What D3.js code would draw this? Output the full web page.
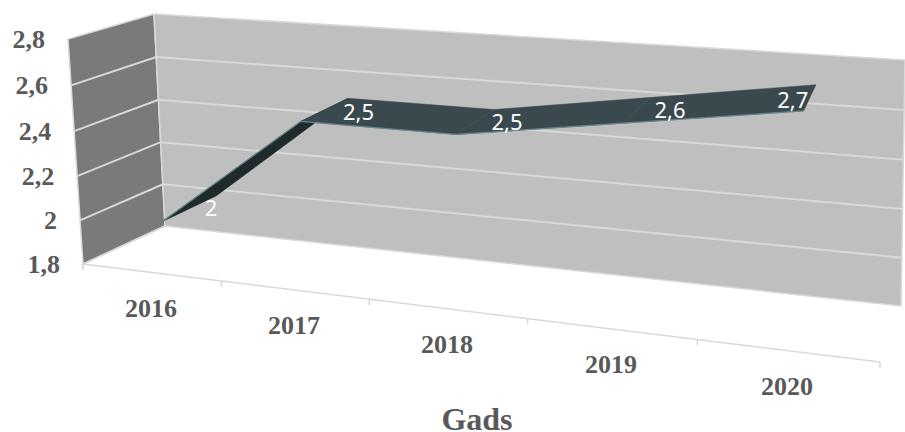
<!DOCTYPE html>
<html lang="en">
  <head>
    <meta charset="utf-8">
    <script src="https://cdn.jsdelivr.net/npm/d3@7"></script>
    <style>
      html, body { margin: 0; background: white; }
      svg { display: block; }
      text.axis { font-family: "Liberation Serif", serif; font-weight: bold; fill: #595959; }
      text.value { font-family: "Noto Sans", sans-serif; font-size: 22px; fill: white; text-anchor: middle; }
    </style>
    <title>Gads</title>
  </head>
  <body>
    <script>
      var years = ["2016", "2017", "2018", "2019", "2020"];
      var values = [2, 2.5, 2.5, 2.6, 2.7];
      var valueLabels = ["2", "2,5", "2,5", "2,6", "2,7"];
      var yTicks = [1.8, 2, 2.2, 2.4, 2.6, 2.8];
      var yTickLabels = ["1,8", "2", "2,2", "2,4", "2,6", "2,8"];
      var axisTitle = "Gads";

      var width = 905, height = 432;

      // unit square -> quad, so the perspective of the box comes out right
      function quadMap(p0, p1, p2, p3) {
        var dx1 = p1[0]-p2[0], dx2 = p3[0]-p2[0], sx = p0[0]-p1[0]+p2[0]-p3[0];
        var dy1 = p1[1]-p2[1], dy2 = p3[1]-p2[1], sy = p0[1]-p1[1]+p2[1]-p3[1];
        var den = dx1*dy2-dx2*dy1;
        var g = (sx*dy2-dx2*sy)/den, h = (dx1*sy-sx*dy1)/den;
        var a = p1[0]-p0[0]+g*p1[0], b = p3[0]-p0[0]+h*p3[0];
        var d = p1[1]-p0[1]+g*p1[1], e = p3[1]-p0[1]+h*p3[1];
        return function(u, v) {
          var q = g*u+h*v+1;
          return [(a*u+b*v+p0[0])/q, (d*u+e*v+p0[1])/q];
        };
      }

      // corners: bottom left, bottom right, top right, top left
      var frontPlane = quadMap([83,264],[880,362],[900,97],[68,39]);
      var backPlane = quadMap([165,226],[901,306],[905,60],[154,14]);

      var x = d3.scaleBand().domain(years).range([0,1]);
      var y = d3.scaleLinear().domain([1.8,2.8]).range([0,1]);
      var uCenter = function(i) { return x(years[i]) + x.bandwidth()/2; };

      function project(u, v, w) {
        var f = frontPlane(u,v), b = backPlane(u,v);
        return [f[0]+(b[0]-f[0])*w, f[1]+(b[1]-f[1])*w];
      }

      var svg = d3.select("body").append("svg").attr("width",width).attr("height",height);
      var line = d3.line();
      var poly = function(pts) { return line(pts)+"Z"; };

      // walls
      svg.append("path").attr("d",poly([project(0,0,0),project(0,0,1),project(0,1,1),project(0,1,0)]))
        .attr("fill","#7a7a7a").attr("stroke","#d9d9d9").attr("stroke-width",1.5);
      svg.append("path").attr("d",poly([project(0,0,1),project(1,0,1),project(1,1,1),project(0,1,1)]))
        .attr("fill","#bfbfbf").attr("stroke","#d9d9d9").attr("stroke-width",1.5);

      // gridlines on both walls
      var grid = svg.append("g").attr("fill","none").attr("stroke","#d9d9d9").attr("stroke-width",2);
      yTicks.slice(1,-1).forEach(function(t) {
        var v = y(t);
        grid.append("path").attr("d",line([project(0,v,0),project(0,v,1),project(1,v,1)]));
      });

      // floor edges and ticks
      var floor = svg.append("g").attr("fill","none").attr("stroke","#d9d9d9").attr("stroke-width",1.5);
      floor.append("path").attr("d",line([project(0,0,1),project(0,0,0),project(1,0,0)]));
      x.domain().concat([null]).forEach(function(d,i) {
        var p = project(i*x.step(),0,0);
        floor.append("path").attr("d",line([p,[p[0],p[1]+6]]));
      });

      // ribbon, one quad per segment from left to right
      var ribbonFront = 0.17, ribbonBack = 0.86;
      var front = values.map(function(d,i) { return project(uCenter(i),y(d),ribbonFront); });
      var back = values.map(function(d,i) { return project(uCenter(i),y(d),ribbonBack); });
      var ribbon = svg.append("g");
      d3.range(values.length-1).forEach(function(i) {
        ribbon.append("path")
          .attr("d",poly([front[i],front[i+1],back[i+1],back[i]]))
          .attr("fill", values[i+1]-values[i] > 0.3 ? "#1f2a2b" : "#3a494d")
          .attr("stroke", values[i+1]-values[i] > 0.3 ? "#1f2a2b" : "#3a494d")
          .attr("stroke-width",0.5);
      });
      ribbon.append("path").attr("d",line(front)).attr("fill","none")
        .attr("stroke","#64868a").attr("stroke-width",1.2);

      // data labels, last one is pulled back inside the ribbon
      var labelShift = [[22,7],[34,10],[32,8],[34,8],[-17,10]];
      svg.append("g").selectAll("text").data(valueLabels).enter().append("text")
        .attr("class","value")
        .attr("x",function(d,i) { return (front[i][0]+back[i][0])/2+labelShift[i][0]; })
        .attr("y",function(d,i) { return (front[i][1]+back[i][1])/2+labelShift[i][1]; })
        .text(function(d) { return d; });

      // axis text
      svg.append("g").selectAll("text").data(yTicks).enter().append("text")
        .attr("class","axis").attr("font-size",26).attr("text-anchor","end")
        .attr("x",function(d) { return project(0,y(d),0)[0]-23; })
        .attr("y",function(d) { return project(0,y(d),0)[1]+9; })
        .text(function(d,i) { return yTickLabels[i]; });

      svg.append("g").selectAll("text").data(years).enter().append("text")
        .attr("class","axis").attr("font-size",26).attr("text-anchor","middle")
        .attr("x",function(d,i) { return project(uCenter(i),0,0)[0]; })
        .attr("y",function(d,i) { return project(uCenter(i),0,0)[1]+44.5; })
        .text(function(d) { return d; });

      svg.append("text").attr("class","axis").attr("font-size",32).attr("text-anchor","middle")
        .attr("x",477).attr("y",430).text(axisTitle);
    </script>
  </body>
</html>
